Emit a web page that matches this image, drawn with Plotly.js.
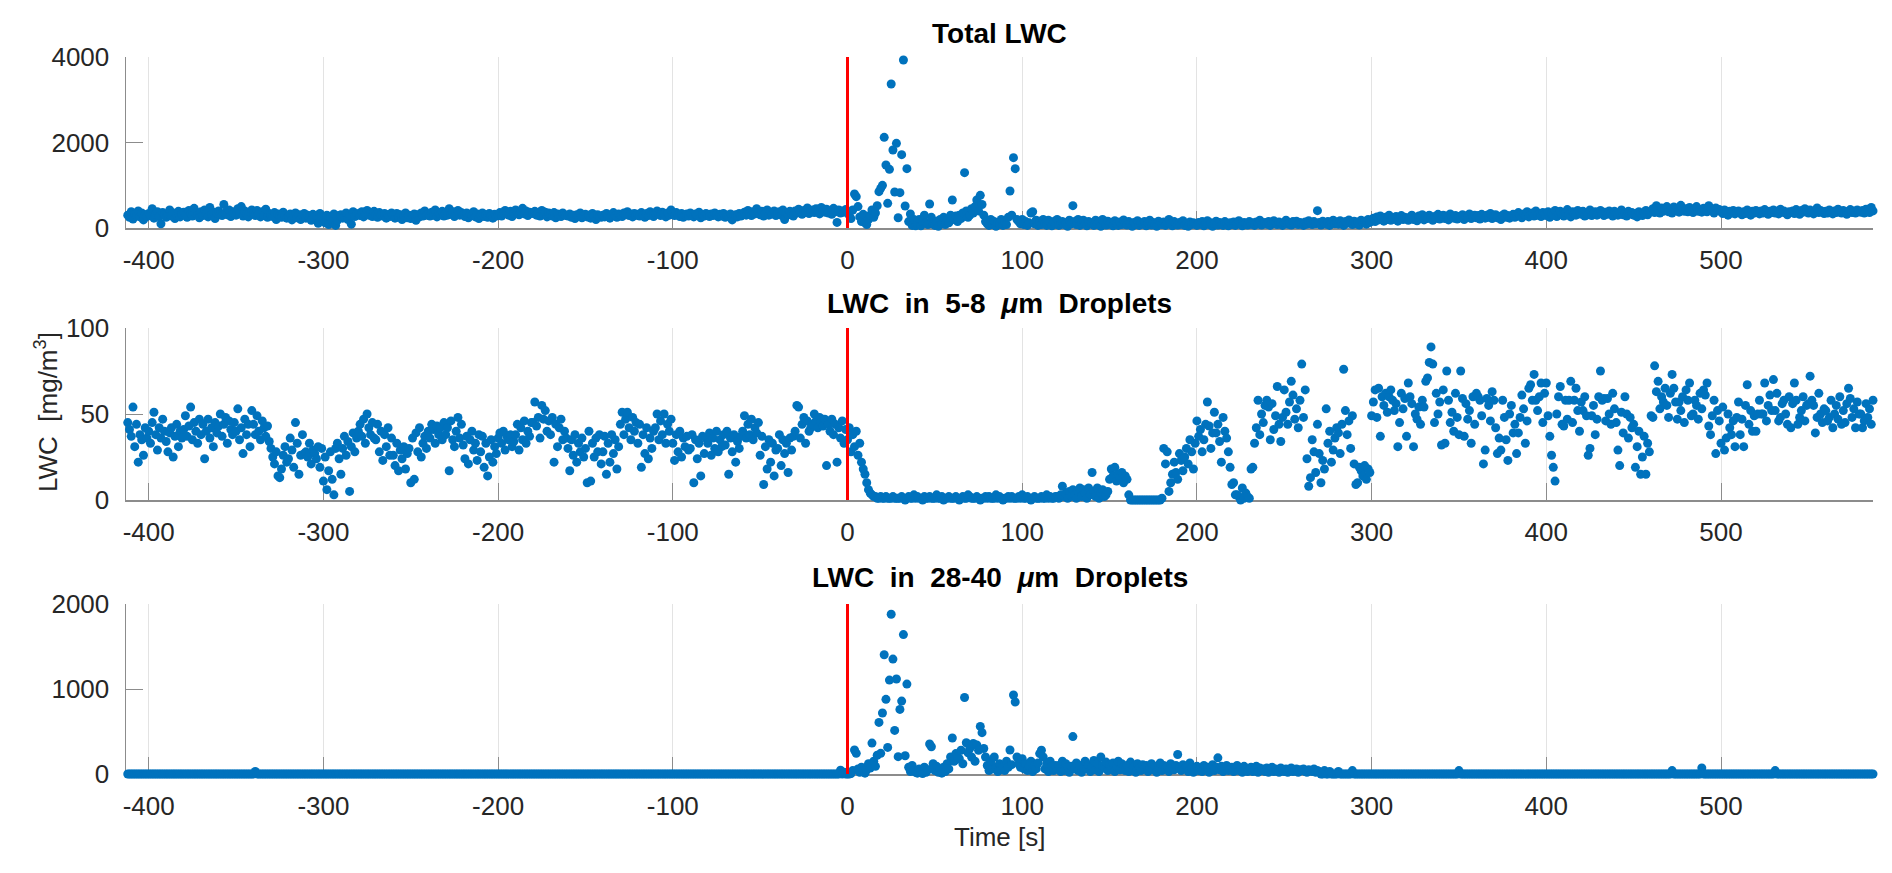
<!DOCTYPE html>
<html>
<head>
<meta charset="utf-8">
<script src="https://cdn.plot.ly/plotly-3.0.1.min.js"></script>
<style>
  html, body { margin: 0; padding: 0; background: #fff; }
  #chart { width: 1892px; height: 873px; }
</style>
</head>
<body>
<div id="chart"></div>
<script>
// one sample per second, first sample at -412 s
var tStart = -412;

// Total LWC [mg/m3]
var totalLwc = [
  300,250,380,210,330,280,400,260,350,190,310,270,
  340,290,450,230,320,380,270,100,360,310,250,330,420,280,350,220,300,390,260,320,
  370,300,250,410,330,280,460,350,310,240,380,290,420,340,260,480,310,370,220,350,
  400,330,290,550,360,310,420,270,380,340,300,450,350,500,280,400,330,260,370,420,
  350,290,410,320,260,380,300,440,250,340,310,270,360,200,330,280,250,370,300,230,
  260,330,190,290,350,240,310,200,280,340,230,300,260,180,320,250,290,110,340,270,
  240,120,300,80,270,150,330,60,180,290,310,230,280,350,200,300,90,380,270,320,
  340,290,380,260,320,410,300,350,270,390,310,250,360,300,280,340,230,310,270,350,
  290,230,340,260,310,200,280,350,240,300,220,290,330,180,310,260,350,280,400,300,
  330,280,370,300,420,260,350,310,390,280,340,300,450,320,380,270,350,410,300,360,
  310,270,350,240,320,290,380,260,330,220,300,350,270,310,250,340,290,230,320,280,
  300,360,280,330,410,350,300,390,270,340,420,360,310,380,460,330,400,290,370,350,
  340,390,300,360,280,410,330,370,260,350,310,280,360,240,330,300,270,350,310,290,
  280,330,250,300,220,310,270,350,240,290,320,260,300,230,340,280,200,310,270,250,
  300,260,340,280,230,310,360,290,250,330,300,270,350,310,380,290,330,260,340,300,
  320,280,360,300,250,340,290,380,310,270,350,400,320,290,370,330,260,350,300,420,
  330,290,360,310,270,340,250,300,330,280,350,310,260,330,290,370,240,310,280,340,
  300,270,330,290,350,310,260,320,280,340,250,300,270,330,190,290,310,260,340,280,
  320,370,300,410,340,290,380,330,450,360,310,390,280,350,420,300,370,330,400,290,
  340,380,300,420,200,350,310,390,330,280,400,350,440,380,320,410,360,470,340,390,
  420,360,450,390,330,480,400,370,440,350,390,320,460,380,130,420,350,400,370,430,
  380,300,220,420,795,733,500,260,150,320,120,80,200,300,420,250,350,520,850,928,
  998,2120,1474,577,1372,3368,1825,842,1980,240,826,1716,3930,515,1388,150,327,60,200,50,
  90,200,50,150,300,120,80,561,250,100,60,150,40,200,100,250,80,180,120,300,
  655,200,280,150,300,220,350,1294,400,250,300,450,350,500,655,400,764,550,300,150,
  100,60,200,80,150,40,120,90,200,60,150,80,250,865,300,1645,1388,200,150,100,
  200,80,150,60,120,350,380,100,180,60,150,80,200,100,60,180,120,50,150,90,
  200,60,100,150,80,120,40,180,100,522,150,80,200,60,120,180,90,50,150,100,
  120,60,180,90,150,40,200,110,70,160,90,130,50,170,100,60,140,80,190,110,
  70,150,100,40,130,80,170,60,120,90,150,50,110,180,70,130,90,40,160,100,
  80,140,60,120,200,90,50,150,110,70,130,90,170,60,110,40,140,80,120,100,
  60,130,90,150,50,110,170,80,120,40,100,160,70,130,90,60,150,110,50,120,
  80,140,60,100,170,90,50,130,110,70,150,90,120,60,140,100,180,70,110,130,
  90,150,60,120,170,100,80,140,110,60,130,180,90,120,70,150,100,160,80,130,
  110,60,140,90,170,120,80,150,100,405,130,70,160,110,90,150,60,130,180,100,
  140,90,170,120,60,150,110,190,130,80,160,100,140,70,180,120,150,90,200,130,
  170,230,150,260,190,280,210,160,250,200,300,180,240,210,270,160,230,290,200,250,
  220,180,260,300,200,240,170,280,230,310,190,260,220,300,250,180,270,230,320,210,
  260,300,220,280,190,330,250,230,290,210,270,240,310,200,280,250,330,220,270,300,
  240,290,210,320,260,230,300,250,340,220,280,310,240,270,200,300,330,250,290,230,
  270,320,250,300,360,280,240,330,290,380,260,310,350,280,400,300,330,270,360,310,
  290,380,250,340,300,410,270,350,390,310,280,360,430,320,260,380,340,300,410,350,
  320,390,280,350,310,420,290,340,380,300,360,410,330,290,370,320,400,350,280,390,
  340,300,370,420,310,350,280,390,330,360,300,340,260,380,320,290,350,410,310,370,
  380,450,360,520,410,350,470,390,440,500,380,430,350,490,410,460,370,530,420,390,
  450,380,480,410,360,440,500,390,430,370,460,410,380,520,440,390,350,470,410,430,
  380,340,420,360,300,390,350,410,330,370,400,350,310,380,340,420,360,300,390,350,
  410,370,330,400,350,430,380,320,390,360,420,350,390,330,440,370,400,350,310,380,
  360,400,340,430,380,320,410,370,450,390,350,420,380,330,400,470,360,410,380,340,
  390,350,420,370,330,400,360,440,380,350,410,370,320,390,430,360,400,350,420,380,
  370,410,350,440,390,360,480,400
];

// LWC in 5-8 um droplets [mg/m3]
var lwc5to8 = [
  45,41,37,54,31,44,22,38,35,26,42,36,
  40,33,45,51,38,29,42,36,47,40, 34,28,39,42,25,37,44,31,40,36,
  41,49,37,43,54,35,45,40,33,47, 38,44,24,40,47,36,42,31,45,39,
  43,50,37,44,48,33,46,41,38,45, 40,53,35,42,27,47,38,44,31,52,
  44,38,49,40,35,46,42,37,43,34, 30,25,21,28,14,13,18,26,31,22,
  24,36,29,19,45,33,15,26,38,27, 28,25,33,21,29,27,24,31,19,30,
  11,25,6,17,28,12,3,30,33,24, 15,30,37,26,34,5,31,39,28,36,
  40,44,37,47,33,50,42,38,45,36, 35,44,28,40,23,38,31,42,26,36,
  26,20,33,17,29,24,31,18,27,30, 10,36,12,39,28,42,25,33,37,30,
  40,36,44,41,33,43,38,42,35,45, 38,42,17,46,35,31,40,48,36,44,
  32,24,37,21,35,40,29,33,23,38, 28,37,19,33,14,25,35,22,31,27,
  36,39,33,40,29,37,35,38,31,34, 38,44,29,42,35,46,33,40,37,45,
  45,57,43,48,36,55,47,52,40,46, 38,48,22,44,31,42,47,35,40,36,
  30,17,35,26,38,22,33,28,36,25, 30,10,40,11,33,25,36,28,38,21,
  28,37,15,33,22,38,27,35,18,31, 44,51,38,47,51,42,35,48,40,45,
  33,44,19,38,27,42,24,36,30,40, 42,50,35,46,38,50,33,44,40,47,
  33,23,38,28,40,25,36,31,37,29, 30,38,10,35,24,33,14,37,27,36,
  33,39,26,36,30,40,28,35,31,38, 32,40,15,36,28,38,22,34,30,37,
  40,49,36,44,38,47,35,42,39,45, 26,37,9,31,18,35,22,33,14,29,
  30,38,20,35,27,33,16,36,29,37, 40,55,54,36,44,48,33,46,40,42,
  44,50,46,42,48,45,43,47,20,44, 40,47,38,44,22,42,36,46,33,41,
  35,42,28,38,31,40,26,33,22,18, 15,10,6,4,3,2,2,1,1,2,
  1,1,2,1,1,1,2,1,1,1, 1,2,1,0,1,2,1,1,3,1,
  2,1,1,0,2,1,1,2,1,1, 1,3,1,1,2,0,1,1,2,1,
  1,1,2,1,0,1,2,1,1,3, 2,1,1,1,2,1,0,1,1,2,
  1,2,1,1,1,3,1,2,1,0, 1,1,2,1,2,1,1,1,2,1,
  3,1,1,2,1,0,1,2,1,1, 1,2,1,1,3,1,2,1,1,2,
  2,1,3,8,2,4,1,5,2,6, 3,1,5,7,2,6,4,1,7,3,
  16,5,2,7,1,4,6,2,3,5, 12,18,14,19,11,15,13,16,10,14,
  12,3,0,0,0,0,0,0,0,0, 0,0,0,0,0,0,0,0,0,0,
  1,30,21,28,5,10,15,22,16,12, 27,23,17,25,30,21,35,28,18,33,
  46,37,41,28,35,44,57,43,30,39, 51,39,44,34,22,48,40,36,28,19,
  9,10,3,3,2,0,7,1,4,2, 1,18,19,33,42,58,38,50,45,55,
  58,54,35,56,41,49,66,44,34,48, 64,51,44,57,69,61,47,53,42,58,
  79,48,64,24,8,13,35,28,16,44, 27,10,23,18,53,33,40,22,29,36,
  42,39,27,44,76,52,38,46,30,49, 21,9,10,19,17,14,20,12,18,16,
  49,57,64,48,65,37,60,55,62,51, 60,64,58,52,56,31,45,62,53,59,
  37,68,60,56,31,50,47,54,44,58, 54,69,71,80,89,79,45,62,50,57,
  32,64,33,75,58,45,51,40,62,48, 38,75,59,37,56,47,52,33,60,44,
  62,60,58,49,21,29,59,55,46,63, 58,42,27,36,29,58,48,35,23,50,
  55,39,44,27,39,48,61,53,33,46, 65,67,58,73,58,52,60,68,45,62,
  68,49,37,26,19,11,50,60,66,44, 43,58,47,58,69,45,58,65,52,40,
  57,52,60,49,26,30,49,55,38,47, 60,75,58,59,46,59,50,44,62,53,
  45,29,20,51,39,60,50,36,48,42, 44,19,31,40,15,25,37,15,33,28,
  49,48,78,63,69,53,60,57,65,55, 48,62,73,65,57,47,57,52,60,45,
  64,58,68,49,50,58,55,47,62,53, 64,61,68,43,38,49,58,27,52,46,
  33,54,29,36,50,42,38,46,31,48, 57,38,47,31,55,67,44,52,40,49,
  40,50,58,50,50,68,46,55,61,52, 70,52,62,46,48,56,58,50,44,60,
  42,56,68,58,44,48,52,60,46,55, 56,72,58,55,39,48,62,50,45,53,
  52,46,48,58,42,50,55,47,60,44, 52,45,56,65,59,48,53,42,57,50,
  50,42,46,56,48,53,44,58
];

// LWC in 28-40 um droplets [mg/m3]
var lwc28to40 = [
  0,0,0,0,0,0,0,0,0,0,0,0,
  0,0,0,0,0,0,0,0,0,0,0,0,0,0,0,0,0,0,0,0,
  0,0,0,0,0,0,0,0,0,0,0,0,0,0,0,0,0,0,0,0,
  0,0,0,0,0,0,0,0,0,0,0,0,0,0,0,0,0,0,0,0,
  0,30,0,0,0,0,0,0,0,0,0,0,0,0,0,0,0,0,0,0,
  0,0,0,0,0,0,0,0,0,0,0,0,0,0,0,0,0,0,0,0,
  0,0,0,0,0,0,0,0,0,0,0,0,0,0,0,0,0,0,0,0,
  0,0,0,0,0,0,0,0,0,0,0,0,0,0,0,0,0,0,0,0,
  0,0,0,0,0,0,0,0,0,0,0,0,0,0,0,0,0,0,0,0,
  0,0,0,0,0,0,0,0,0,0,0,0,0,0,0,0,0,0,0,0,
  0,0,0,0,0,0,0,0,0,0,0,0,0,0,0,0,0,0,0,0,
  0,0,0,0,0,0,0,0,0,0,0,0,0,0,0,0,0,0,0,0,
  0,0,0,0,0,0,0,0,0,0,0,0,0,0,0,0,0,0,0,0,
  0,0,0,0,0,0,0,0,0,0,0,0,0,0,0,0,0,0,0,0,
  0,0,0,0,0,0,0,0,0,0,0,0,0,0,0,0,0,0,0,0,
  0,0,0,0,0,0,0,0,0,0,0,0,0,0,0,0,0,0,0,0,
  0,0,0,0,0,0,0,0,0,0,0,0,0,0,0,0,0,0,0,0,
  0,0,0,0,0,0,0,0,0,0,0,0,0,0,0,0,0,0,0,0,
  0,0,0,0,0,0,0,0,0,0,0,0,0,0,0,0,0,0,0,0,
  0,0,0,0,0,0,0,0,0,0,0,0,0,0,0,0,0,0,0,0,
  0,0,0,0,0,0,0,0,0,0,0,0,0,0,0,0,45,0,20,0,
  0,0,5,40,282,243,60,20,80,30, 10,50,120,70,364,150,90,220,607,243,
  717,1403,878,313,1105,1880,1352,513,1117,204, 760,858,1640,215,1058,80,30,100,40,20,
  10,60,30,5,80,20,50,353,321,120, 40,90,20,60,10,80,30,120,60,200,
  423,150,240,200,180,280,120,900,368,250, 300,200,360,150,341,280,560,486,300,200,
  100,40,150,60,200,80,30,120,50,90, 40,150,80,282,110,930,847,200,120,80,
  180,60,120,40,90,150,30,100,60,130, 240,280,200,60,120,30,150,90,40,100,
  60,100,30,150,40,120,80,20,90,440, 60,130,40,100,20,80,150,60,110,30,
  90,160,50,120,30,200,100,70,140,40, 110,60,130,30,90,150,50,120,80,40,
  100,30,140,60,90,20,120,70,40,110, 60,100,30,80,120,50,90,20,70,130,
  40,100,60,90,30,120,70,50,100,230, 80,40,110,60,90,30,130,70,20,60,
  90,40,70,30,100,50,80,20,60,110, 40,80,190,50,90,30,70,100,40,60,
  80,30,50,100,40,70,20,90,60,30, 50,80,30,60,90,20,70,40,60,30,
  70,20,50,80,30,60,40,20,70,50, 30,60,20,50,70,30,40,60,20,50,
  40,60,30,20,50,40,30,60,20,40, 30,0,0,40,0,0,30,0,0,0,
  0,30,0,0,0,0,0,0,0,40, 0,0,0,0,0,0,0,0,0,0,
  0,0,0,0,0,0,0,0,0,0,0,0,0,0,0,0,0,0,0,0,
  0,0,0,0,0,0,0,0,0,0,0,0,0,0,0,0,0,0,0,0,
  0,0,0,0,0,0,0,0,0,0,40,0,0,0,0,0,0,0,0,0,
  0,0,0,0,0,0,0,0,0,0,0,0,0,0,0,0,0,0,0,0,
  0,0,0,0,0,0,0,0,0,0,0,0,0,0,0,0,0,0,0,0,
  0,0,0,0,0,0,0,0,0,0,0,0,0,0,0,0,0,0,0,0,
  0,0,0,0,0,0,0,0,0,0,0,0,0,0,0,0,0,0,0,0,
  0,0,0,0,0,0,0,0,0,0,0,0,0,0,0,0,0,0,0,0,
  0,0,0,0,0,0,0,0,0,0,0,0,40,0,0,0,0,0,0,0,
  0,0,0,0,0,0,0,0,0,70,0,0,0,0,0,0,0,0,0,0,
  0,0,0,0,0,0,0,0,0,0,0,0,0,0,0,0,0,0,0,0,
  0,0,0,0,0,0,0,0,0,0,0,40,0,0,0,0,0,0,0,0,
  0,0,0,0,0,0,0,0,0,0,0,0,0,0,0,0,0,0,0,0,
  0,0,0,0,0,0,0,0,0,0,0,0,0,0,0,0,0,0,0,0,
  0,0,0,0,0,0,0,0
];

var panelTitles = [
  'Total LWC',
  'LWC\u00a0\u00a0in\u00a0\u00a05-8\u00a0\u00a0<i>\u03bc</i>m\u00a0\u00a0Droplets',
  'LWC\u00a0\u00a0in\u00a0\u00a028-40\u00a0\u00a0<i>\u03bc</i>m\u00a0\u00a0Droplets'
];
var xTicks = [-400, -300, -200, -100, 0, 100, 200, 300, 400, 500];
var xTickText = ['-400', '-300', '-200', '-100', '0', '100', '200', '300', '400', '500'];
var yRanges = [[0, 4000], [0, 100], [0, 2000]];
var yTicks = [[0, 2000, 4000], [0, 50, 100], [0, 1000, 2000]];

var time = totalLwc.map(function (v, i) { return tStart + i; });

var FONT = 'Liberation Sans, Arial, Helvetica, sans-serif';
var W = 1892, H = 873;
var xDomain = [126 / W, 1873 / W];
// panel top/bottom in pixels
var panelPx = [[57, 228], [328, 500], [604, 774]];
var titlePx = [34, 303, 577];

var series = [totalLwc, lwc5to8, lwc28to40];
var data = [];
var layout = {
  width: W,
  height: H,
  margin: { l: 0, r: 0, t: 0, b: 0 },
  paper_bgcolor: '#ffffff',
  plot_bgcolor: '#ffffff',
  showlegend: false,
  font: { family: FONT, size: 26, color: '#262626' },
  shapes: [],
  annotations: []
};

for (var p = 0; p < 3; p++) {
  var suf = p === 0 ? '' : String(p + 1);
  data.push({
    type: 'scatter',
    mode: 'markers',
    x: time,
    y: series[p],
    xaxis: 'x' + suf,
    yaxis: 'y' + suf,
    cliponaxis: false,
    hoverinfo: 'skip',
    marker: { color: '#0072BD', size: 9, line: { width: 0 } }
  });
  layout['xaxis' + suf] = {
    domain: xDomain,
    anchor: 'y' + suf,
    range: [-413, 587],
    tickmode: 'array',
    tickvals: xTicks,
    ticktext: xTickText,
    ticks: 'inside',
    ticklen: 17,
    tickwidth: 1,
    tickcolor: '#8c8c8c',
    showline: true,
    linecolor: '#8c8c8c',
    linewidth: 1.5,
    showgrid: true,
    gridcolor: '#e3e3e3',
    gridwidth: 1,
    zeroline: false,
    layer: 'below traces',
    ticklabelstandoff: 8,
    tickfont: { family: FONT, size: 26, color: '#262626' }
  };
  layout['yaxis' + suf] = {
    domain: [1 - panelPx[p][1] / H, 1 - panelPx[p][0] / H],
    anchor: 'x' + suf,
    range: yRanges[p],
    tickmode: 'array',
    tickvals: yTicks[p],
    ticks: 'inside',
    ticklen: 17,
    tickwidth: 1,
    tickcolor: '#8c8c8c',
    showline: true,
    linecolor: '#8c8c8c',
    linewidth: 1.5,
    showgrid: false,
    zeroline: false,
    layer: 'below traces',
    ticklabelstandoff: 10,
    tickfont: { family: FONT, size: 26, color: '#262626' }
  };
  // event marker at t = 0
  layout.shapes.push({
    type: 'line', xref: 'x' + suf, yref: 'y' + suf + ' domain',
    x0: 0, x1: 0, y0: 0, y1: 1,
    line: { color: '#ff0000', width: 3 },
    layer: 'above'
  });
  layout.annotations.push({
    xref: 'paper', yref: 'paper',
    x: (xDomain[0] + xDomain[1]) / 2, y: 1 - titlePx[p] / H,
    xanchor: 'center', yanchor: 'middle',
    text: '<b>' + panelTitles[p] + '</b>',
    showarrow: false,
    font: { family: FONT, size: 28, color: '#000000' }
  });
}

layout.annotations.push({
  xref: 'paper', yref: 'paper',
  x: 46 / W, y: 1 - 412 / H,
  xanchor: 'center', yanchor: 'middle',
  textangle: -90,
  text: 'LWC\u00a0\u00a0[mg/m<sup>3</sup>]',
  showarrow: false,
  font: { family: FONT, size: 26, color: '#262626' }
});
layout.annotations.push({
  xref: 'paper', yref: 'paper',
  x: (xDomain[0] + xDomain[1]) / 2, y: 1 - 837 / H,
  xanchor: 'center', yanchor: 'middle',
  text: 'Time [s]',
  showarrow: false,
  font: { family: FONT, size: 26, color: '#262626' }
});

Plotly.newPlot('chart', data, layout, { staticPlot: true, displayModeBar: false });
</script>
</body>
</html>
